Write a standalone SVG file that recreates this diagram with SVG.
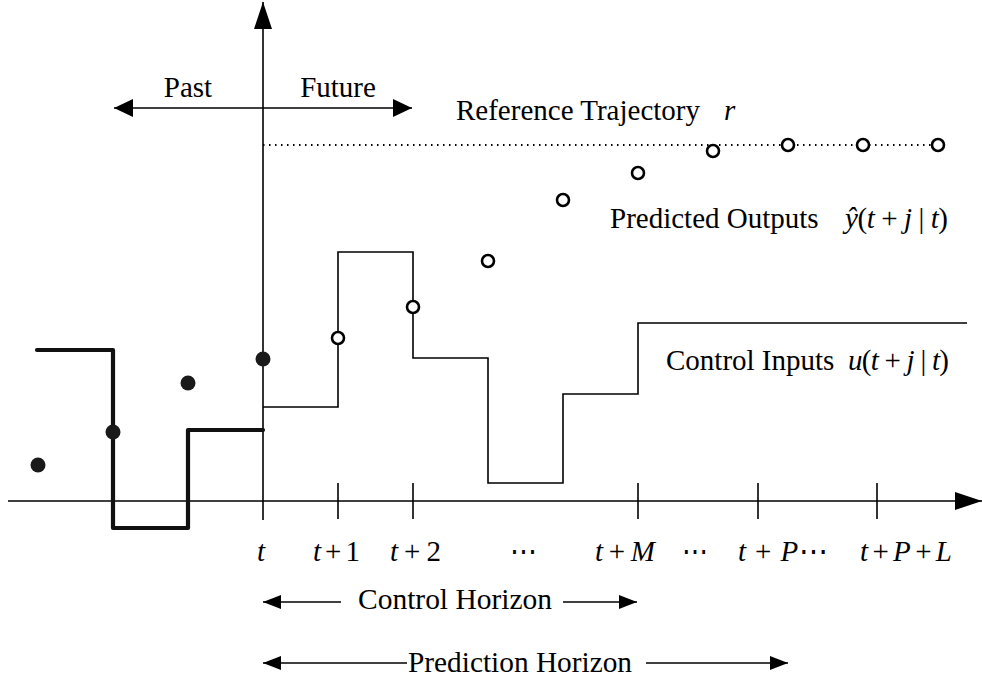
<svg xmlns="http://www.w3.org/2000/svg" width="982" height="678" viewBox="0 0 982 678">
<style>
text{font-family:"Liberation Serif","DejaVu Serif",serif;font-size:29px;fill:#000}
.m{font-style:italic}
.ln{fill:none;stroke:#000;stroke-width:1.6}
.thick{fill:none;stroke:#111;stroke-width:4.2;stroke-linecap:round;stroke-linejoin:round}
.open{fill:#fff;stroke:#000;stroke-width:2.6}
.full{fill:#1a1a1a}
</style>
<defs>
<marker id="big" markerUnits="userSpaceOnUse" markerWidth="28" markerHeight="18" refX="27" refY="9" orient="auto-start-reverse"><path d="M0,0 L27,9 L0,18 z" fill="#000"/></marker>
<marker id="mid" markerUnits="userSpaceOnUse" markerWidth="20" markerHeight="18" refX="19" refY="9" orient="auto-start-reverse"><path d="M0,0 L19,9 L0,18 z" fill="#000"/></marker>
<marker id="sm" markerUnits="userSpaceOnUse" markerWidth="19" markerHeight="14" refX="18" refY="7" orient="auto-start-reverse"><path d="M0,0 L18,7 L0,14 z" fill="#000"/></marker>
</defs>
<g id="connectors">
<line class="ln" x1="263" y1="520" x2="263" y2="2" marker-end="url(#big)"/>
<line class="ln" x1="8" y1="501" x2="982" y2="501" marker-end="url(#big)"/>
<line class="ln" x1="114" y1="108" x2="412" y2="108" marker-start="url(#mid)" marker-end="url(#mid)"/>
<g id="ticks" class="ln">
<line x1="338" y1="483" x2="338" y2="519"/>
<line x1="413" y1="483" x2="413" y2="519"/>
<line x1="638" y1="483" x2="638" y2="519"/>
<line x1="758" y1="483" x2="758" y2="519"/>
<line x1="877" y1="483" x2="877" y2="519"/>
</g>
<line x1="263" y1="145" x2="945" y2="145" stroke="#000" stroke-width="1.8" stroke-dasharray="1.5 4.5"/>
<polyline id="control-inputs" class="ln" points="263,407 338,407 338,252 413,252 413,358 488,358 488,483 563,483 563,394 638,394 638,323 967,323"/>
<polyline id="past-inputs" class="thick" points="37,350 113,350 113,528 188,528 188,430 263,430"/>
<line class="ln" x1="263" y1="602" x2="341" y2="602" marker-start="url(#sm)"/>
<line class="ln" x1="563" y1="602" x2="637" y2="602" marker-end="url(#sm)"/>
<line class="ln" x1="263" y1="663" x2="407" y2="663" marker-start="url(#sm)"/>
<line class="ln" x1="646" y1="663" x2="788" y2="663" marker-end="url(#sm)"/>
</g>
<g id="past-outputs">
<circle class="full" cx="38" cy="465" r="7.5"/>
<circle class="full" cx="113" cy="432" r="7.5"/>
<circle class="full" cx="188" cy="383" r="7.5"/>
<circle class="full" cx="263" cy="359" r="7.5"/>
</g>
<g id="predicted-outputs">
<circle class="open" cx="338" cy="338" r="6"/>
<circle class="open" cx="413" cy="307" r="6"/>
<circle class="open" cx="488" cy="261" r="6"/>
<circle class="open" cx="563" cy="200" r="6"/>
<circle class="open" cx="638" cy="173" r="6"/>
<circle class="open" cx="713" cy="151" r="6"/>
<circle class="open" cx="788" cy="145" r="6"/>
<circle class="open" cx="863" cy="145" r="6"/>
<circle class="open" cx="938" cy="145" r="6"/>
</g>
<g id="labels">
<text x="188" y="97" text-anchor="middle">Past</text>
<text x="338" y="97" text-anchor="middle">Future</text>
<text x="456" y="120">Reference Trajectory</text>
<text x="724" y="120" class="m" font-size="33">r</text>
<text x="610" y="228">Predicted Outputs</text>
<text x="845" y="228" textLength="103" lengthAdjust="spacing"><tspan class="m">ŷ</tspan>(<tspan class="m">t</tspan> + <tspan class="m">j</tspan> | <tspan class="m">t</tspan>)</text>
<text x="666" y="370">Control Inputs</text>
<text x="848" y="370" textLength="101" lengthAdjust="spacing"><tspan class="m">u</tspan>(<tspan class="m">t</tspan> + <tspan class="m">j</tspan> | <tspan class="m">t</tspan>)</text>
<text x="261" y="561" text-anchor="middle" class="m">t</text>
<text x="313" y="561" textLength="47" lengthAdjust="spacing"><tspan class="m">t</tspan> + 1</text>
<text x="390" y="561" textLength="51" lengthAdjust="spacing"><tspan class="m">t</tspan> + 2</text>
<text x="510" y="561" textLength="27" lengthAdjust="spacingAndGlyphs">⋯</text>
<text x="595" y="561" textLength="60" lengthAdjust="spacing"><tspan class="m">t</tspan> + <tspan class="m">M</tspan></text>
<text x="682" y="561" textLength="26" lengthAdjust="spacingAndGlyphs">⋯</text>
<text x="738" y="561" textLength="90" lengthAdjust="spacing"><tspan class="m">t</tspan> + <tspan class="m">P</tspan>⋯</text>
<text x="860" y="561" textLength="92" lengthAdjust="spacing"><tspan class="m">t</tspan> + <tspan class="m">P</tspan> + <tspan class="m">L</tspan></text>
<text x="358" y="609" textLength="194" lengthAdjust="spacingAndGlyphs">Control Horizon</text>
<text x="408" y="672" textLength="224" lengthAdjust="spacingAndGlyphs">Prediction Horizon</text>
</g>
</svg>
